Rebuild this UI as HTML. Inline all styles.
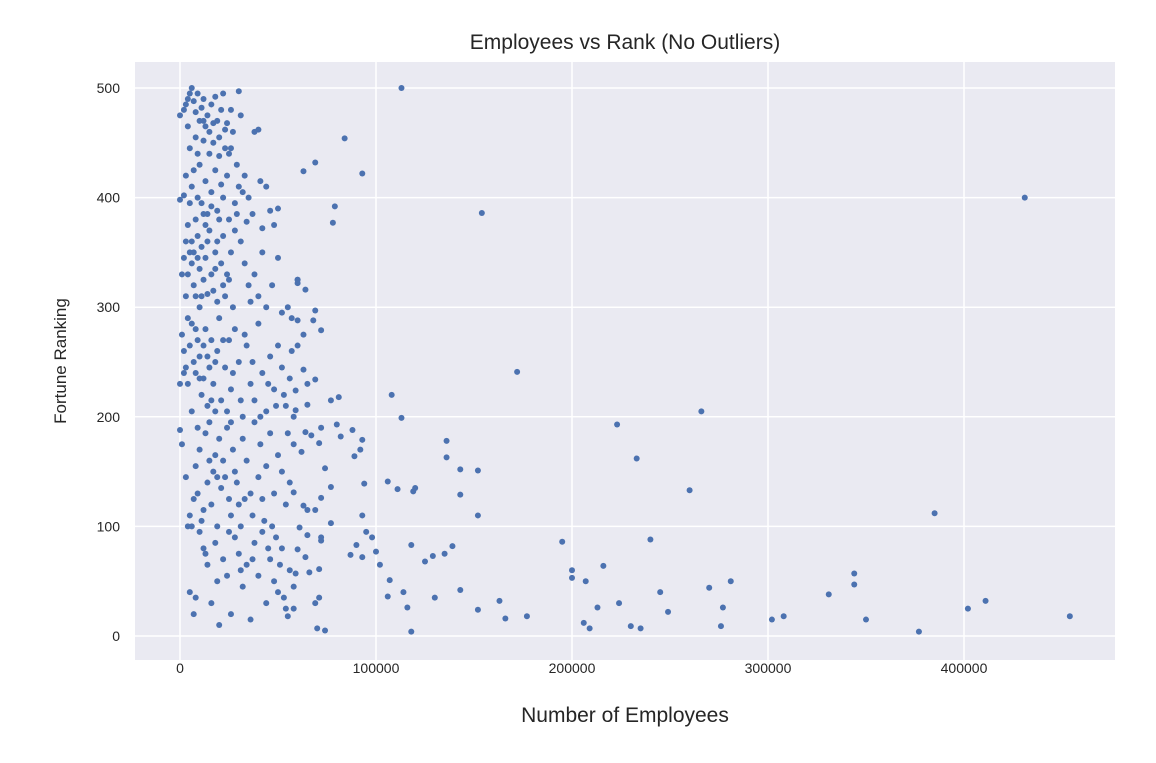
<!DOCTYPE html>
<html><head><meta charset="utf-8"><style>
html,body{margin:0;padding:0;background:#fff;}
svg text{font-family:"Liberation Sans",sans-serif;fill:#262626;}
</style></head><body>
<svg id="chart" width="1156" height="758" viewBox="0 0 1156 758" xmlns="http://www.w3.org/2000/svg">
<rect x="135" y="62" width="980" height="598" fill="#EAEAF2"/>
<g id="grid"></g>
<g id="ticks"></g>
<g id="points"></g>
<text x="625" y="49" font-size="21" text-anchor="middle">Employees vs Rank (No Outliers)</text>
<text x="625" y="722" font-size="21" text-anchor="middle">Number of Employees</text>
<text x="0" y="0" font-size="17" text-anchor="middle" transform="translate(66,361) rotate(-90)">Fortune Ranking</text>
</svg>
<script>
const xTicks=[0,100000,200000,300000,400000];
const yTicks=[0,100,200,300,400,500];
const empK=[
113,84,93,69,63,79,78,154,431,172,108,113,266,223,233,260,240,195,200,200,207,216,206,209,213,224,230,235,245,249,270,277,276,281,302,308,331,344,344,350,377,385,402,411,454,
136,136,143,152,152,143,139,143,152,163,166,177,119,118,120,114,116,118,125,129,135,130,107,106,102,100,98,93,95,90,87,93,94,89,88,92,93,106,111,
82,80,81,77,72,71,74,77,72,69,72,72,71,77,70,74,69,71,63,65,65,66,64,60,59,58,61,58,62,60,63,60,64,69,68,72,60,65,63,69,59,65,59,64,67,60,
0,2,3,4,5,6,7,8,9,10,11,12,13,14,15,16,17,18,19,20,21,22,23,24,25,27,30,31,29,33,38,40,15,12,8,5,10,18,20,26,3,6,9,13,16,21,24,28,32,35,37,41,44,46,50,0,2,7,11,14,19,22,25,30,42,48,34,12,17,23,26,4,9,
1,2,3,4,5,6,7,8,9,10,11,12,13,14,15,16,17,18,19,20,21,22,23,24,25,26,27,28,29,31,33,35,36,38,40,42,44,47,50,52,55,57,60,3,5,8,10,12,14,16,18,22,6,11,13,7,19,4,9,
1,2,3,4,5,6,7,8,9,10,11,12,13,14,15,16,17,18,19,20,21,23,25,26,28,30,32,34,36,38,40,42,44,46,48,50,52,54,56,58,0,2,4,6,8,10,12,14,16,18,22,24,27,31,33,37,41,45,49,53,57,0,
1,3,5,6,7,8,9,10,11,12,13,14,15,16,17,18,19,20,21,22,23,24,25,26,27,28,29,30,31,32,34,36,37,38,40,41,43,44,46,48,50,52,54,56,58,4,9,15,19,26,33,42,47,55,
5,7,8,10,12,14,16,18,20,22,24,26,28,30,32,34,36,38,40,42,44,46,48,50,52,54,56,58,13,19,25,31,37,45,51,53,55,49
];
const ranks=[
500,454,422,432,424,392,377,386,400,241,220,199,205,193,162,133,88,86,60,53,50,64,12,7,26,30,9,7,40,22,44,26,9,50,15,18,38,57,47,15,4,112,25,32,18,
178,163,152,151,110,129,82,42,24,32,16,18,132,83,135,40,26,4,68,73,75,35,51,36,65,77,90,72,95,83,74,110,139,164,188,170,179,141,134,
182,193,218,215,190,176,153,136,126,115,90,87,61,103,7,5,30,35,119,115,92,58,72,79,57,25,99,131,168,288,275,265,316,297,288,279,325,230,243,234,224,211,206,186,183,322,
475,480,485,490,495,500,488,478,495,470,482,490,465,475,460,485,450,492,470,455,480,495,445,468,440,460,497,475,430,420,460,462,440,452,455,445,430,425,438,445,420,410,400,415,405,412,420,395,405,400,385,415,410,388,390,398,402,425,395,385,388,400,380,410,372,375,378,470,468,462,480,465,440,
330,345,360,375,350,340,320,310,365,335,355,325,345,360,370,330,315,350,305,380,340,365,310,330,325,350,300,370,385,360,340,320,305,330,310,350,300,320,345,295,300,290,325,310,395,380,300,385,312,392,335,320,360,310,375,350,360,330,345,
275,260,245,230,265,285,250,240,270,255,220,235,280,210,245,270,230,205,260,290,215,245,270,225,280,250,200,265,230,215,285,240,205,255,225,265,245,210,235,200,230,240,290,205,280,235,265,255,215,250,270,205,240,215,275,250,200,230,210,220,260,188,
175,145,110,100,125,155,130,170,105,115,185,140,195,120,150,165,100,180,135,160,145,190,125,110,170,150,140,120,100,180,160,130,110,195,145,175,105,155,185,130,165,150,120,140,175,100,190,160,145,195,125,125,100,185,
40,20,35,95,80,65,30,85,10,70,55,20,90,75,45,65,15,85,55,95,30,70,50,40,80,25,60,45,75,50,95,60,70,80,65,35,18,90
];
const NS='http://www.w3.org/2000/svg';
function xs(v){return 180+v*196/100000;}
function ys(v){return 636-v*1.096;}
const grid=document.getElementById('grid'),ticks=document.getElementById('ticks'),pts=document.getElementById('points');
xTicks.forEach(t=>{
 const l=document.createElementNS(NS,'line');
 
 
 l.setAttribute('x1',xs(t));l.setAttribute('x2',xs(t));l.setAttribute('y1',62);l.setAttribute('y2',660);
 l.setAttribute('stroke','#fff');l.setAttribute('stroke-width','1.5');grid.appendChild(l);
 const tx=document.createElementNS(NS,'text');
 
 
 tx.setAttribute('x',xs(t));tx.setAttribute('y',673);tx.setAttribute('font-size','14');tx.setAttribute('text-anchor','middle');
 tx.textContent=t;ticks.appendChild(tx);
});
yTicks.forEach(t=>{
 const l=document.createElementNS(NS,'line');
 
 
 l.setAttribute('x1',135);l.setAttribute('x2',1115);l.setAttribute('y1',ys(t));l.setAttribute('y2',ys(t));
 l.setAttribute('stroke','#fff');l.setAttribute('stroke-width','1.5');grid.appendChild(l);
 const tx=document.createElementNS(NS,'text');
 
 
 tx.setAttribute('x',120);tx.setAttribute('y',ys(t)+5);tx.setAttribute('font-size','14');tx.setAttribute('text-anchor','end');
 tx.textContent=t;ticks.appendChild(tx);
});
const n=Math.min(empK.length,ranks.length);
for(let i=0;i<n;i++){
 const c=document.createElementNS(NS,'circle');
 
 
 c.setAttribute('cx',xs(empK[i]*1000));c.setAttribute('cy',ys(ranks[i]));c.setAttribute('r','3');
 c.setAttribute('fill','#4C72B0');pts.appendChild(c);
}
</script>
</body></html>
